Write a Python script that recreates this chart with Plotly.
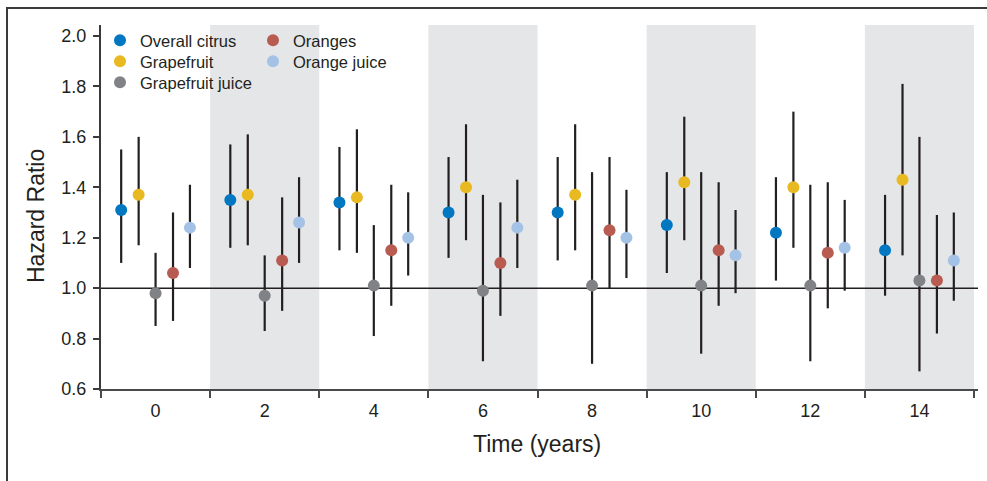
import plotly.graph_objects as go

# ---------------- data ----------------
times = [0, 2, 4, 6, 8, 10, 12, 14]
series_names = ["Overall citrus", "Grapefruit", "Grapefruit juice", "Oranges", "Orange juice"]

overall_hr = [1.31, 1.35, 1.34, 1.30, 1.30, 1.25, 1.22, 1.15]
overall_lo = [1.10, 1.16, 1.15, 1.12, 1.11, 1.06, 1.03, 0.97]
overall_hi = [1.55, 1.57, 1.56, 1.52, 1.52, 1.46, 1.44, 1.37]

grapefruit_hr = [1.37, 1.37, 1.36, 1.40, 1.37, 1.42, 1.40, 1.43]
grapefruit_lo = [1.17, 1.17, 1.14, 1.19, 1.15, 1.19, 1.16, 1.13]
grapefruit_hi = [1.60, 1.61, 1.63, 1.65, 1.65, 1.68, 1.70, 1.81]

gfjuice_hr = [0.98, 0.97, 1.01, 0.99, 1.01, 1.01, 1.01, 1.03]
gfjuice_lo = [0.85, 0.83, 0.81, 0.71, 0.70, 0.74, 0.71, 0.67]
gfjuice_hi = [1.14, 1.13, 1.25, 1.37, 1.46, 1.46, 1.41, 1.60]

oranges_hr = [1.06, 1.11, 1.15, 1.10, 1.23, 1.15, 1.14, 1.03]
oranges_lo = [0.87, 0.91, 0.93, 0.89, 1.00, 0.93, 0.92, 0.82]
oranges_hi = [1.30, 1.36, 1.41, 1.34, 1.52, 1.42, 1.42, 1.29]

ojuice_hr = [1.24, 1.26, 1.20, 1.24, 1.20, 1.13, 1.16, 1.11]
ojuice_lo = [1.08, 1.10, 1.05, 1.08, 1.04, 0.98, 0.99, 0.95]
ojuice_hi = [1.41, 1.44, 1.38, 1.43, 1.39, 1.31, 1.35, 1.30]

y_ticks = [0.6, 0.8, 1.0, 1.2, 1.4, 1.6, 1.8, 2.0]
y_tick_labels = ["0.6", "0.8", "1.0", "1.2", "1.4", "1.6", "1.8", "2.0"]
x_tick_labels = ["0", "2", "4", "6", "8", "10", "12", "14"]

# ---------------- style ----------------
colors = ["#0077c0", "#e8b920", "#808285", "#b85c52", "#a4c2e6"]
offsets = [-0.63, -0.31, 0.0, 0.32, 0.63]
# legend slots (left px, top px) – one legend box per entry for exact placement
legend_slots = [(100, 23), (100, 44), (100, 65), (253, 23), (253, 44)]
ink = "#231f20"
W, H = 987, 481
ML, MR, MT, MB = 101, 9, 25, 92
plot_w = W - ML - MR
plot_h = H - MT - MB
FONT = "Liberation Sans, Arial, Helvetica, sans-serif"

all_hr = [overall_hr, grapefruit_hr, gfjuice_hr, oranges_hr, ojuice_hr]
all_lo = [overall_lo, grapefruit_lo, gfjuice_lo, oranges_lo, ojuice_lo]
all_hi = [overall_hi, grapefruit_hi, gfjuice_hi, oranges_hi, ojuice_hi]

legend_keys = ["legend"] + ["legend%d" % (k + 2) for k in range(len(series_names) - 1)]

fig = go.Figure()
for i, name in enumerate(series_names):
    hr, lo, hi = all_hr[i], all_lo[i], all_hi[i]
    fig.add_trace(go.Scatter(
        x=[t + offsets[i] for t in times],
        y=hr,
        mode="markers",
        name=name,
        legend=legend_keys[i],
        marker=dict(color=colors[i], size=12, line=dict(width=0)),
        error_y=dict(
            type="data", symmetric=False,
            array=[h - v for h, v in zip(hi, hr)],
            arrayminus=[v - l for v, l in zip(hr, lo)],
            color=ink, thickness=2.2, width=0,
        ),
        hoverinfo="x+y",
    ))

shapes = []
# shaded alternate bands
for k, t in enumerate(times):
    if k % 2 == 1:
        shapes.append(dict(type="rect", xref="x", yref="paper", x0=t - 1, x1=t + 1,
                           y0=0, y1=1, fillcolor="#e5e6e8", line=dict(width=0), layer="below"))
# reference line at HR = 1
shapes.append(dict(type="line", xref="paper", yref="y", x0=0, x1=1, y0=1.0, y1=1.0,
                   line=dict(color=ink, width=1.5), layer="below"))


def px_to_paper_x(px):
    return (px - ML) / plot_w


def px_to_paper_y(py):
    return (H - MB - py) / plot_h


# outer frame
shapes.append(dict(type="rect", xref="paper", yref="paper",
                   x0=px_to_paper_x(7), x1=px_to_paper_x(1010),
                   y0=px_to_paper_y(520), y1=px_to_paper_y(8),
                   line=dict(color="#3a3a3a", width=2), fillcolor="rgba(0,0,0,0)", layer="above"))

px_per_unit = (974 - ML) / 16.0
x_max = 15 + (W - MR - 974) / px_per_unit

legend_layout = {}
for key, (lx, ly) in zip(legend_keys, legend_slots):
    legend_layout[key] = dict(
        xref="container", yref="container",
        x=lx / W, y=1 - ly / H, xanchor="left", yanchor="top",
        bgcolor="rgba(0,0,0,0)", borderwidth=0,
        font=dict(family=FONT, size=16.5, color=ink),
        orientation="v",
    )

fig.update_layout(
    width=W, height=H,
    margin=dict(l=ML, r=MR, t=MT, b=MB, pad=0, autoexpand=False),
    paper_bgcolor="white", plot_bgcolor="white",
    shapes=shapes,
    font=dict(family=FONT, color=ink),
    showlegend=True,
    xaxis=dict(
        range=[-1, x_max],
        tickvals=times, ticktext=x_tick_labels,
        ticks="", ticklen=0,
        tickfont=dict(family=FONT, size=18, color=ink),
        ticklabelstandoff=4,
        minor=dict(tickvals=[t - 1 for t in times] + [times[-1] + 1],
                   ticks="outside", ticklen=7, tickwidth=1.5, tickcolor="#4a4a4a"),
        showgrid=False, zeroline=False,
        showline=True, linecolor="#4a4a4a", linewidth=2,
        fixedrange=True, automargin=False,
    ),
    yaxis=dict(
        range=[0.6, 2.0 + 11 / 252],
        tickvals=y_ticks, ticktext=y_tick_labels,
        ticks="outside", ticklen=6, tickwidth=1.5, tickcolor="#3a3a3a",
        tickfont=dict(family=FONT, size=18, color=ink),
        ticklabelstandoff=3,
        showgrid=False, zeroline=False,
        showline=True, linecolor="#3a3a3a", linewidth=2,
        fixedrange=True, automargin=False,
    ),
    annotations=[
        dict(text="Hazard Ratio", xref="paper", yref="paper",
             x=px_to_paper_x(36), y=px_to_paper_y(216), textangle=-90,
             showarrow=False, font=dict(family=FONT, size=23, color=ink),
             xanchor="center", yanchor="middle"),
        dict(text="Time (years)", xref="paper", yref="paper",
             x=px_to_paper_x(537), y=px_to_paper_y(444),
             showarrow=False, font=dict(family=FONT, size=23, color=ink),
             xanchor="center", yanchor="middle"),
    ],
    **legend_layout,
)

fig.write_html("out.html", config={"displayModeBar": False},
               post_script="document.body.style.margin='0';")
